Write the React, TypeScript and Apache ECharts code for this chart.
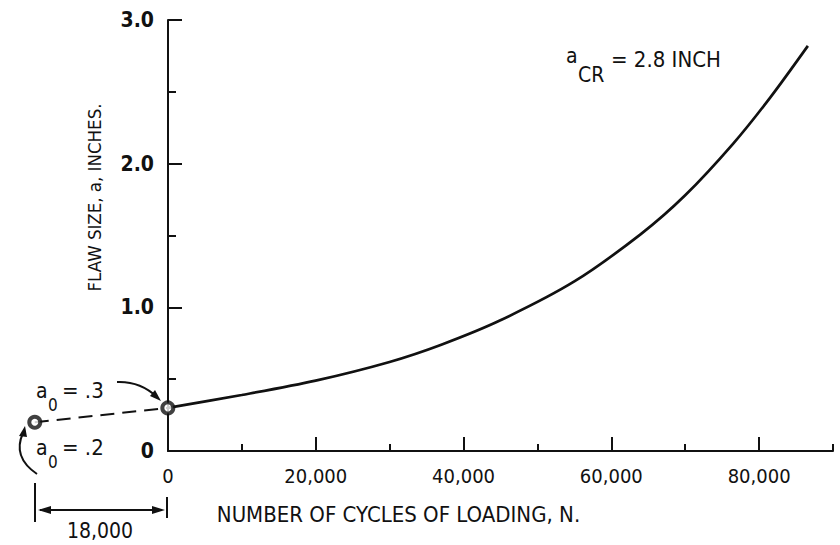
import React, { useEffect, useRef } from "react";
import * as echarts from "echarts";

// ---- data ----
const cyclesN = [0, 10000, 20000, 30000, 37000, 45000, 55000, 64000, 70000, 76500, 81500, 86600];
const flawSize = [0.3, 0.39, 0.49, 0.62, 0.74, 0.91, 1.18, 1.51, 1.78, 2.14, 2.46, 2.82];

const extrapN = [-18000, 0];
const extrapA = [0.2, 0.3];

const xMajorTicks = [0, 20000, 40000, 60000, 80000];
const xMajorLabels = ["0", "20,000", "40,000", "60,000", "80,000"];
const xMinorTicks = [10000, 30000, 50000, 70000, 90000];
const yTickLabels = ["0", "1.0", "2.0", "3.0"];

const FONT = '"DejaVu Sans Condensed", "Liberation Sans Narrow", "DejaVu Sans", sans-serif';
const INK = "#111";

function txt(x: number, y: number, text: string, size: number, weight = "normal", align = "left") {
  return {
    type: "text",
    x,
    y,
    silent: true,
    style: {
      text,
      fill: INK,
      fontSize: size,
      fontFamily: FONT,
      fontWeight: weight,
      align,
      verticalAlign: "middle",
    },
  };
}

export default function App() {
  const ref = useRef<HTMLDivElement>(null);

  useEffect(() => {
    if (!ref.current) return;
    const chart = echarts.init(ref.current, undefined, { renderer: "svg" });

    const curve = cyclesN.map((n, i) => [n, flawSize[i]]);
    const extrap = extrapN.map((n, i) => [n, extrapA[i]]);

    const option: any = {
      animation: false,
      backgroundColor: "#fff",
      grid: [
        { left: 20, right: 7, top: 20, bottom: 94 },
        { left: 168, right: 7, top: 20, bottom: 94 },
      ],
      xAxis: [
        { type: "value", gridIndex: 0, min: -20000, max: 90000, show: false },
        {
          type: "value",
          gridIndex: 1,
          position: "bottom",
          min: 0,
          max: 90000,
          interval: 10000,
          splitLine: { show: false },
          axisLine: { show: true, lineStyle: { color: INK, width: 2 } },
          axisTick: {
            show: true,
            inside: true,
            length: 7,
            customValues: xMinorTicks,
            lineStyle: { color: INK, width: 2 },
          },
          axisLabel: {
            show: true,
            customValues: xMajorTicks,
            margin: 15,
            color: INK,
            fontSize: 20,
            fontFamily: FONT,
            formatter: (v: number) => {
              const i = xMajorTicks.indexOf(v);
              return i >= 0 ? xMajorLabels[i] : "";
            },
          },
          name: "NUMBER OF CYCLES OF LOADING, N.",
          nameLocation: "middle",
          nameMoveOverlap: false,
          nameGap: 52,
          nameTextStyle: {
            color: INK,
            fontSize: 22,
            fontFamily: FONT,
            padding: [0, 204, 0, 0],
          },
        },
        {
          type: "value",
          gridIndex: 1,
          position: "bottom",
          min: 0,
          max: 90000,
          interval: 10000,
          splitLine: { show: false },
          axisLine: { show: false },
          axisLabel: { show: false },
          axisTick: {
            show: true,
            inside: true,
            length: 14,
            customValues: xMajorTicks.slice(1),
            lineStyle: { color: INK, width: 2 },
          },
        },
      ],
      yAxis: [
        { type: "value", gridIndex: 0, min: 0, max: 3, show: false },
        {
          type: "value",
          gridIndex: 1,
          position: "left",
          min: 0,
          max: 3,
          interval: 1,
          splitLine: { show: false },
          axisLine: { show: true, lineStyle: { color: INK, width: 2 } },
          axisTick: { show: true, inside: true, length: 14, lineStyle: { color: INK, width: 2 } },
          minorTick: { show: true, splitNumber: 2, length: 8, lineStyle: { color: INK, width: 2 } },
          axisLabel: {
            margin: 14,
            color: INK,
            fontSize: 21,
            fontWeight: "bold",
            fontFamily: FONT,
            formatter: (v: number) => yTickLabels[Math.round(v)] ?? "",
          },
          name: "FLAW SIZE, a, INCHES.",
          nameLocation: "middle",
          nameMoveOverlap: false,
          nameGap: 64,
          nameTextStyle: {
            color: INK,
            fontSize: 18.5,
            fontFamily: FONT,
            padding: [0, 0, 0, 76],
          },
        },
      ],
      series: [
        {
          name: "Crack growth",
          type: "line",
          xAxisIndex: 0,
          yAxisIndex: 0,
          data: curve,
          smooth: 0.3,
          showSymbol: false,
          symbol: "none",
          lineStyle: { color: INK, width: 2.7 },
          z: 3,
        },
        {
          name: "Extrapolation",
          type: "line",
          xAxisIndex: 0,
          yAxisIndex: 0,
          data: extrap,
          symbol: "none",
          lineStyle: { color: INK, width: 2, type: [14, 8] },
          z: 3,
        },
        {
          name: "Initial flaw",
          type: "scatter",
          xAxisIndex: 0,
          yAxisIndex: 0,
          data: extrap,
          symbol: "circle",
          symbolSize: 11,
          itemStyle: { color: "#fff", borderColor: INK, borderWidth: 4 },
          z: 5,
        },
      ],
      graphic: [
        // a_CR = 2.8 INCH
        txt(566, 56, "a", 21),
        txt(578, 75, "CR", 21),
        txt(611, 59, "= 2.8 INCH", 22),
        // a0 = .3
        txt(36, 391, "a", 21),
        txt(48, 405, "0", 17),
        txt(62, 390, "= .3", 22),
        // a0 = .2
        txt(36, 448, "a", 21),
        txt(48, 462, "0", 17),
        txt(62, 447, "= .2", 22),
        // arrow to a0=.3 point
        {
          type: "bezierCurve",
          silent: true,
          shape: { x1: 117, y1: 382, cpx1: 140, cpy1: 381, x2: 157, y2: 397 },
          style: { stroke: INK, lineWidth: 2, fill: "none" },
        },
        {
          type: "polygon",
          silent: true,
          shape: { points: [[161, 401], [150, 396], [155, 390]] },
          style: { fill: INK },
        },
        // curved arrow to a0=.2 point
        {
          type: "bezierCurve",
          silent: true,
          shape: { x1: 37, y1: 474, cpx1: 12, cpy1: 457, x2: 23, y2: 433 },
          style: { stroke: INK, lineWidth: 2, fill: "none" },
        },
        {
          type: "polygon",
          silent: true,
          shape: { points: [[25, 426], [19, 436], [27, 437]] },
          style: { fill: INK },
        },
        // 18,000 dimension
        {
          type: "line",
          silent: true,
          shape: { x1: 35, y1: 483, x2: 35, y2: 522 },
          style: { stroke: INK, lineWidth: 2 },
        },
        {
          type: "line",
          silent: true,
          shape: { x1: 167, y1: 497, x2: 167, y2: 518 },
          style: { stroke: INK, lineWidth: 2 },
        },
        {
          type: "line",
          silent: true,
          shape: { x1: 40, y1: 510, x2: 162, y2: 510 },
          style: { stroke: INK, lineWidth: 2 },
        },
        {
          type: "polygon",
          silent: true,
          shape: { points: [[38, 510], [51, 506], [51, 514]] },
          style: { fill: INK },
        },
        {
          type: "polygon",
          silent: true,
          shape: { points: [[165, 510], [152, 506], [152, 514]] },
          style: { fill: INK },
        },
        txt(100, 531, "18,000", 21, "normal", "center"),
      ],
    };

    chart.setOption(option);
    return () => chart.dispose();
  }, []);

  return (
    <div
      ref={ref}
      style={{ position: "fixed", left: 0, top: 0, width: 840, height: 545, background: "#fff" }}
    />
  );
}
